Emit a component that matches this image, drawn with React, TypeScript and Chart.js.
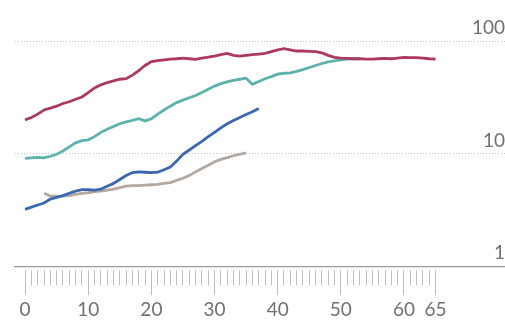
import React, { useEffect, useRef } from "react";
import { Chart, registerables } from "chart.js";

Chart.register(...registerables);

const days = [
  0, 1, 2, 3, 4, 5, 6, 7, 8, 9, 10, 11, 12, 13, 14, 15, 16, 17, 18, 19, 20,
  21, 22, 23, 24, 25, 26, 27, 28, 29, 30, 31, 32, 33, 34, 35, 36, 37, 38, 39,
  40, 41, 42, 43, 44, 45, 46, 47, 48, 49, 50, 51, 52, 53, 54, 55, 56, 57, 58,
  59, 60, 61, 62, 63, 64, 65,
];

const xTickLabels = [0, 10, 20, 30, 40, 50, 60, 65];
const yTickValues = [1, 10, 100];

const crimson = [
  20, 21, 22.5, 24.5, 25.5, 26.5, 28, 29, 30.5, 32, 35, 38.5, 41, 43, 44.5, 46,
  46.5, 50, 55, 61, 66, 67.5, 68.5, 69.5, 70, 71, 70, 69, 71, 72.5, 74, 76, 78,
  75, 74, 75, 76, 77, 78, 81, 84, 86, 84, 82, 82, 81.5, 81, 79, 75, 72, 71,
  70.5, 70, 70, 69.5, 69.5, 70, 70.5, 70, 71, 72, 71.5, 71.5, 71, 70, 69.5,
];

const teal = [
  9.1, 9.2, 9.3, 9.2, 9.5, 9.9, 10.6, 11.5, 12.5, 13.1, 13.3, 14.2, 15.5, 16.5,
  17.5, 18.5, 19.2, 19.8, 20.5, 19.6, 20.5, 22.5, 24.5, 26.5, 28.5, 30, 31.5,
  33, 35, 37.5, 40, 42, 43.5, 45, 46, 47, 41.5, 44, 46.5, 48.5, 51, 52, 52.5,
  54, 56, 58.5, 61, 63.5, 65.5, 67, 68.5, 69.5, 70, 70,
];

const blue = [
  3.2, 3.35, 3.5, 3.65, 3.95, 4.1, 4.25, 4.45, 4.65, 4.8, 4.8, 4.75, 4.85,
  5.15, 5.45, 5.9, 6.4, 6.8, 6.9, 6.85, 6.8, 6.85, 7.2, 7.6, 8.6, 9.9, 10.8,
  11.8, 12.9, 14.2, 15.5, 17, 18.5, 19.8, 21, 22.3, 23.6, 25.3,
];

const grey = [
  null, null, null, 4.45, 4.2, 4.2, 4.2, 4.25, 4.35, 4.45, 4.5, 4.6, 4.65,
  4.75, 4.85, 5.0, 5.15, 5.2, 5.2, 5.25, 5.3, 5.35, 5.45, 5.55, 5.8, 6.05, 6.4,
  6.9, 7.4, 7.9, 8.5, 8.9, 9.25, 9.6, 9.9, 10.2,
];

const toPoints = (vals: (number | null)[]) =>
  vals.map((v, i) => ({ x: days[i], y: v }));

const FONT = "Lato, 'Noto Sans', sans-serif";

export default function App() {
  const ref = useRef<HTMLCanvasElement>(null);

  useEffect(() => {
    document.body.style.margin = "0";
    const canvas = ref.current;
    if (!canvas) return;
    const mk = (label: string, vals: (number | null)[], color: string) => ({
      label,
      data: toPoints(vals),
      borderColor: color,
      backgroundColor: color,
      borderWidth: 2.8,
      pointRadius: 0,
      tension: 0,
      spanGaps: false,
    });
    const chart = new Chart(canvas, {
      type: "line",
      data: {
        datasets: [
          mk("crimson", crimson, "#ad3a5c"),
          mk("blue", blue, "#3b67b1"),
          mk("teal", teal, "#5db3ac"),
          mk("grey", grey, "#b3a89f"),
        ],
      },
      options: {
        responsive: false,
        animation: false,
        devicePixelRatio: 1,
        layout: { padding: { top: 14, left: 15, right: 0, bottom: 2 } },
        plugins: {
          legend: { display: false },
          tooltip: { enabled: false },
        },
        scales: {
          x: {
            type: "linear",
            min: -1.6,
            max: 76,
            afterBuildTicks: (axis: any) => {
              axis.ticks = days.map((v) => ({ value: v }));
            },
            grid: {
              drawOnChartArea: false,
              drawTicks: true,
              tickLength: 30,
              tickColor: "#bdbdbd",
              tickWidth: 1,
              tickBorderDash: (ctx: any) =>
                xTickLabels.includes(ctx.tick?.value)
                  ? [0, 3, 25, 100]
                  : [0, 3, 15, 100],
            },
            border: { display: true, color: "#9a9a9a", width: 1.2 },
            ticks: {
              autoSkip: false,
              maxRotation: 0,
              padding: 2,
              color: "#707070",
              font: { family: FONT, size: 19 },
              callback: (v: any) =>
                xTickLabels.includes(Number(v)) ? String(v) : "",
            },
          },
          y: {
            type: "logarithmic",
            position: "right",
            min: 1,
            max: 175,
            afterBuildTicks: (axis: any) => {
              axis.ticks = yTickValues.map((v) => ({ value: v }));
            },
            grid: {
              drawTicks: false,
              color: (ctx: any) =>
                ctx.tick?.value === 1 ? "rgba(0,0,0,0)" : "#c4c4c4",
              lineWidth: 1,
            },
            border: { display: false, dash: [1, 2] },
            ticks: {
              mirror: true,
              padding: 0,
              labelOffset: -13,
              color: "#707070",
              font: { family: FONT, size: 19 },
              callback: (v: any) => String(v),
            },
          },
        },
      },
    } as any);
    return () => chart.destroy();
  }, []);

  return (
    <div style={{ width: 505, height: 325 }}>
      <canvas ref={ref} width={505} height={325} style={{ display: "block" }} />
    </div>
  );
}
